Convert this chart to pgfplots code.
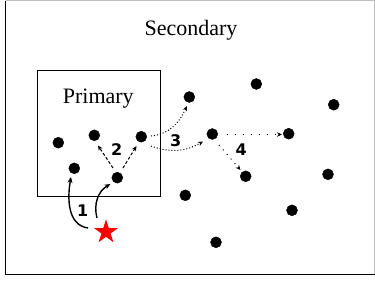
\documentclass[border=0pt]{standalone}
\usepackage{pgfplots}
\pgfplotsset{compat=1.18}
\usepackage{fontspec}
\setmainfont{Liberation Serif}
\newfontfamily\numfont{DejaVu Sans}
\usetikzlibrary{arrows.meta}
\pgfdeclareplotmark{filledstar}{%
  \pgfpathmoveto{\pgfpointpolar{90}{\pgfplotmarksize}}%
  \pgfpathlineto{\pgfpointpolar{126}{0.382\pgfplotmarksize}}%
  \pgfpathlineto{\pgfpointpolar{162}{\pgfplotmarksize}}%
  \pgfpathlineto{\pgfpointpolar{198}{0.382\pgfplotmarksize}}%
  \pgfpathlineto{\pgfpointpolar{234}{\pgfplotmarksize}}%
  \pgfpathlineto{\pgfpointpolar{270}{0.382\pgfplotmarksize}}%
  \pgfpathlineto{\pgfpointpolar{306}{\pgfplotmarksize}}%
  \pgfpathlineto{\pgfpointpolar{342}{0.382\pgfplotmarksize}}%
  \pgfpathlineto{\pgfpointpolar{18}{\pgfplotmarksize}}%
  \pgfpathlineto{\pgfpointpolar{54}{0.382\pgfplotmarksize}}%
  \pgfpathclose
  \pgfusepathqfill}
\begin{document}
\begin{tikzpicture}
\begin{axis}[
  at={(0pt,0pt)}, anchor=south west,
  width=375pt, height=282pt, scale only axis,
  xmin=0, xmax=375, ymin=0, ymax=282,
  y dir=reverse, hide axis, clip=false]
% outer frame
\draw[black!25, line width=1pt] (5.5,0.5) -- (374.5,0.5) -- (374.5,274);
\draw[black, line width=1pt] (5.5,0.5) -- (5.5,274) -- (374.5,274);
% primary box
\draw[black, line width=0.9pt] (37.3,70.3) rectangle (160.7,196);
\node[font=\fontsize{22}{26}\selectfont] at (191,30.5) {Secondary};
\node[font=\fontsize{22}{26}\selectfont] at (98.3,98.5) {Primary};
% dots
\addplot[only marks, mark=*, mark size=5.5pt, black] coordinates {
(58.3,142.7) (94.3,135.3) (74.3,168.3) (117.3,177.7) (141.3,136.7)
(189.3,97) (256.3,84) (333.7,104.7) (212.3,134) (288.7,133.7)
(245.7,176.3) (328,174.3) (185.3,195.3) (292,210.3) (216,242.3)};
% star
\addplot[only marks, mark=filledstar, mark size=12.6pt, red] coordinates {(106,232)};
% arrows 1
\draw[line width=1.4pt, -{Stealth[length=6pt,width=5pt]}] (88,228) to[out=172,in=-100] (71,177);
\draw[line width=1.4pt, -{Stealth[length=6pt,width=5pt]}] (97,218) to[out=105,in=-150] (110.5,184);
% arrows 2
\draw[line width=1pt, dash pattern=on 3pt off 2pt, -{Stealth[length=5pt,width=4.5pt]}] (113,168) -- (98,145.5);
\draw[line width=1pt, dash pattern=on 3pt off 2pt, -{Stealth[length=5pt,width=4.5pt]}] (123,168) -- (136.5,146);
% arrows 3
\draw[line width=1pt, dotted, -{Stealth[length=5pt,width=4.5pt]}] (151,136) to[out=5,in=-115] (187,106);
\draw[line width=1pt, dotted, -{Stealth[length=5pt,width=4.5pt]}] (151,146) to[out=-20,in=-150] (203,141.5);
% arrows 4
\draw[line width=1pt, dash pattern=on 1pt off 7pt, -{Stealth[length=5pt,width=4.5pt]}] (227,134.5) -- (282,134.5);
\draw[line width=1pt, dash pattern=on 1pt off 5pt, -{Stealth[length=5pt,width=4.5pt]}] (219,145) -- (240.5,170);
% numbers
\node[font=\numfont\bfseries\fontsize{16}{18}\selectfont] at (82.7,211) {1};
\node[font=\numfont\bfseries\fontsize{16}{18}\selectfont] at (116.7,150) {2};
\node[font=\numfont\bfseries\fontsize{16}{18}\selectfont] at (175.7,141) {3};
\node[font=\numfont\bfseries\fontsize{16}{18}\selectfont] at (241.3,149.3) {4};
\end{axis}
\pgfresetboundingbox
\useasboundingbox (0pt,0pt) rectangle (375pt,282pt);
\end{tikzpicture}
\end{document}
